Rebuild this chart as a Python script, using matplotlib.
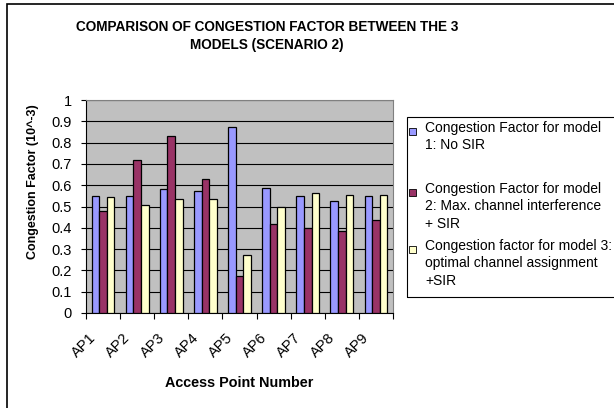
import numpy as np
import matplotlib
matplotlib.use("Agg")
import matplotlib.pyplot as plt
from matplotlib.patches import Rectangle
from matplotlib.transforms import ScaledTranslation

plt.rcParams['font.family'] = ['Liberation Sans', 'DejaVu Sans']

access_points = ["AP1", "AP2", "AP3", "AP4", "AP5", "AP6", "AP7", "AP8", "AP9"]
model1_no_sir = [0.55, 0.55, 0.581, 0.575, 0.875, 0.586, 0.55, 0.527, 0.55]
model2_max_interf = [0.48, 0.719, 0.833, 0.628, 0.175, 0.419, 0.397, 0.383, 0.436]
model3_optimal = [0.544, 0.508, 0.533, 0.533, 0.27, 0.498, 0.5625, 0.556, 0.555]

legend_labels = [
    "Congestion Factor for model\n1: No SIR",
    "Congestion Factor for model\n2: Max. channel interference\n+ SIR",
    "Congestion factor for model 3:\noptimal channel assignment\n+SIR",
]
colors = ["#9999FF", "#993366", "#FFFFCC"]

W, H = 614, 408
fig = plt.figure(figsize=(W / 100, H / 100), dpi=100)

# outer chart border (right/bottom cropped in the original)
fig.patches.append(Rectangle((7 / W, -0.1), 1.2, 1 - 4 / H + 0.1, transform=fig.transFigure,
                             fill=False, edgecolor="black", linewidth=1.2))

ax = fig.add_axes([86 / W, 1 - 313 / H, (393 - 86) / W, (313 - 100) / H])
ax.set_facecolor("#C0C0C0")

x = np.arange(len(access_points))
bw = 1 / 4.5
series = [model1_no_sir, model2_max_interf, model3_optimal]
for i, vals in enumerate(series):
    ax.bar(x + (i - 1) * bw, vals, width=bw, color=colors[i], edgecolor="black",
           linewidth=0.9, zorder=3)

ax.set_xlim(-0.5, len(access_points) - 0.5)
ax.set_ylim(0, 1)
ax.set_yticks(np.arange(0, 1.01, 0.1))
ax.set_yticklabels(["0", "0.1", "0.2", "0.3", "0.4", "0.5", "0.6", "0.7", "0.8", "0.9", "1"])
ax.yaxis.grid(True, color="black", linewidth=0.8, zorder=0)
ax.set_axisbelow(True)

ax.set_xticks(np.arange(len(access_points) + 1) - 0.5, minor=False)
ax.set_xticklabels([])
ax.set_xticks(x, minor=True)
ax.set_xticklabels(access_points, minor=True, rotation=45, ha="right", va="center",
                   rotation_mode="anchor", fontsize=10.5)
ax.tick_params(axis="x", which="minor", length=0, pad=0)
ax.tick_params(axis="x", which="major", length=4, direction="out", color="black")
ax.tick_params(axis="y", length=3.6, direction="out", labelsize=10.5, pad=6.5)
shift = ScaledTranslation(-9 / 100, -23 / 100, fig.dpi_scale_trans)
for lab in ax.get_xticklabels(minor=True):
    lab.set_transform(lab.get_transform() + shift)

for side in ["left", "bottom"]:
    ax.spines[side].set_color("black")
    ax.spines[side].set_linewidth(0.8)
for side in ["top", "right"]:
    ax.spines[side].set_color("#808080")
    ax.spines[side].set_linewidth(0.8)

ax.set_ylabel("Congestion Factor (10^-3)", fontsize=9, fontweight="bold")
ax.yaxis.set_label_coords(-0.153, 0.617)
ax.set_xlabel("Access Point Number", fontsize=10.4, fontweight="bold")
ax.xaxis.set_label_coords(0.5, -0.296)

fig.text(267 / W, 1 - 36 / H, "COMPARISON OF CONGESTION FACTOR BETWEEN THE 3\nMODELS (SCENARIO 2)",
         ha="center", va="center", fontsize=9.8, fontweight="bold", linespacing=1.4)

# legend drawn by hand to get Excel-like top-aligned entries
fig.patches.append(Rectangle((407 / W, 1 - 297 / H), 1.0, (297 - 117) / H,
                             transform=fig.transFigure, fill=False, edgecolor="black",
                             linewidth=0.8))
entry_tops = [124, 185, 242]
for i, lab in enumerate(legend_labels):
    top = entry_tops[i]
    fig.patches.append(Rectangle((409 / W, 1 - (top + 11) / H), 7 / W, 7 / H,
                                 transform=fig.transFigure, facecolor=colors[i],
                                 edgecolor="black", linewidth=0.6))
    fig.text(425 / W, 1 - (top - 3) / H, lab, ha="left", va="top", fontsize=10,
             linespacing=1.3)

fig.savefig("out.png", dpi=100)
